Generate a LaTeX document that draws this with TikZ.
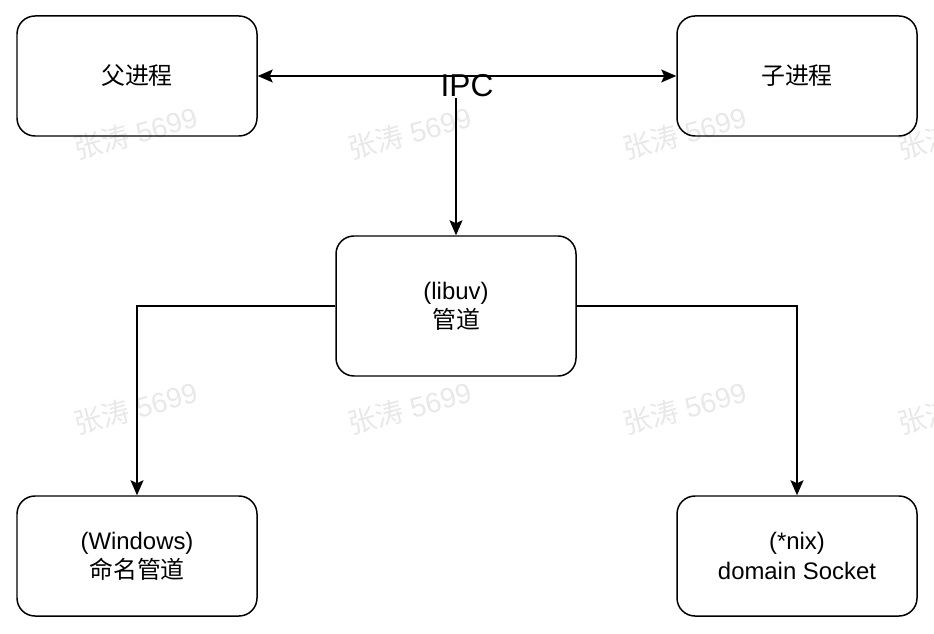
\documentclass[tikz,border=0pt]{standalone}
\usepackage{fontspec}
\setmainfont{Liberation Sans}
\newfontfamily\cjk{Noto Sans CJK SC}
\usetikzlibrary{arrows.meta}

\begin{document}
\begin{tikzpicture}[
	box/.style={draw, line width=0.85pt, rounded corners=0.36cm, minimum width=4.8cm, minimum height=2.4cm, align=center, font=\fontsize{13.6}{16.6}\selectfont},
	link/.style={line width=0.85pt, -{Stealth[length=0.3cm, width=0.26cm, inset=0.06cm]}},
	mark5699/.style={text=black!9, rotate=15, font=\fontsize{16}{18}\selectfont}]
	\useasboundingbox (0,0) rectangle (18.68,-12.68);
	% watermark
	\foreach \wx/\wy [count=\i] in {2.72/-2.66, 8.2/-2.66, 13.7/-2.66, 19.2/-2.66, 2.72/-8.16, 8.2/-8.16, 13.7/-8.16, 19.2/-8.16}
		\node[mark5699] (wm\i) at (\wx,\wy) {{\cjk 张涛} 5699};
	\node[box] (parent) at (2.74,-1.52) {\cjk 父进程};
	\node[box] (child) at (15.94,-1.52) {\cjk 子进程};
	\node[box, minimum height=2.8cm] (pipe) at (9.12,-6.12) {(libuv)\\{\cjk 管道}};
	\node[box] (win) at (2.74,-11.12) {(Windows)\\{\cjk 命名管道}};
	\node[box] (unix) at (15.94,-11.12) {(*nix)\\domain Socket};
	\draw[link, {Stealth[length=0.3cm, width=0.26cm, inset=0.06cm]}-{Stealth[length=0.3cm, width=0.26cm, inset=0.06cm]}] (parent) -- (child);
	\node[inner sep=0pt, font=\fontsize{18}{20}\selectfont] (ipc) at (9.34,-1.72) {IPC};
	\coordinate (ipcfoot) at (ipc.south -| pipe.north);
	\draw[link] (ipcfoot) -- (pipe);
	\draw[link] (pipe.west) -| (win);
	\draw[link] (pipe.east) -| (unix);
\end{tikzpicture}
\end{document}
